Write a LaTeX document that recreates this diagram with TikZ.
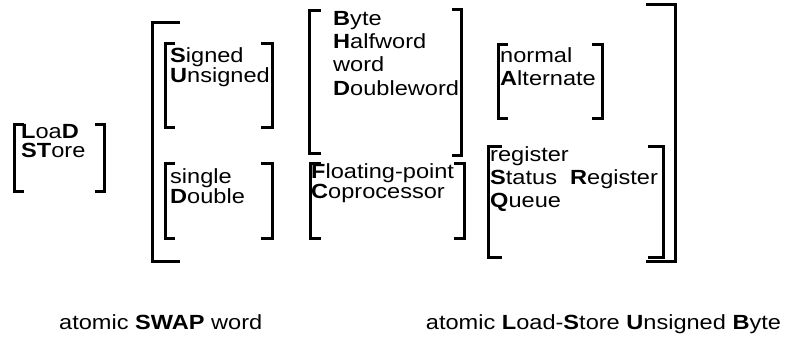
\documentclass[tikz,border=0pt]{standalone}
\usepackage{fontspec}
\setmainfont[FakeStretch=1.15]{Liberation Sans}
\newcommand\B[1]{\textbf{#1}}
% left and right square brackets: x, top y, bottom y, serif length
\newcommand\brL[4]{\draw[br] ({#1+#4},#2) -- (#1,#2) -- (#1,#3) -- ({#1+#4},#3);}
\newcommand\brR[4]{\draw[br] ({#1-#4},#2) -- (#1,#2) -- (#1,#3) -- ({#1-#4},#3);}
\begin{document}
\begin{tikzpicture}[x=1pt,y=-1pt,
  br/.style={line width=3pt, line join=miter},
  lbl/.style={anchor=base west, inner sep=0pt, font=\fontsize{20.5}{22}\selectfont}]
\useasboundingbox (0,0) rectangle (788,340);

% load / store
\brL{14.5}{124}{191}{9}
\brR{104}{124}{191}{9}
\node[lbl] (ld) at (21,138) {\B{L}oa\B{D}};
\node[lbl] (st) at (21,157.5) {\B{ST}ore};

% outer bracket
\brL{152}{22}{261}{28}
\brR{675}{4}{261}{29}

% signed / unsigned
\brL{165}{43}{127}{10}
\brR{272}{43}{127}{11}
\node[lbl] (sg) at (170,62) {\B{S}igned};
\node[lbl] (us) at (170,82) {\B{U}nsigned};

% single / double
\brL{165}{163}{238}{10}
\brR{272}{163}{238}{11}
\node[lbl] (si) at (170,183) {single};
\node[lbl] (db) at (170,203) {\B{D}ouble};

% operand width
\brL{309}{10}{153}{12}
\brR{461}{9}{155}{9}
\node[lbl] (by) at (333,25) {\B{B}yte};
\node[lbl] (hw) at (333,48.5) {\B{H}alfword};
\node[lbl] (wd) at (333,71.5) {word};
\node[lbl] (dw) at (333,95) {\B{D}oubleword};

% floating-point / coprocessor
\brL{310}{163}{238}{11}
\brR{464}{163}{238}{10}
\node[lbl] (fp) at (311,178) {\B{F}loating-point};
\node[lbl] (cp) at (311,198) {\B{C}oprocessor};

% normal / alternate
\brL{498}{44}{118}{10}
\brR{602}{44}{118}{10}
\node[lbl] (nm) at (500,62) {normal};
\node[lbl] (al) at (500,85) {\B{A}lternate};

% register / status register / queue
\brL{488}{146}{257}{14}
\brR{663}{146}{257}{15}
\node[lbl] (rg) at (490,161) {register};
\node[lbl] (sr) at (490,184) {\B{S}tatus\ \ \B{R}egister};
\node[lbl] (qu) at (490,207) {\B{Q}ueue};

% instruction names
\node[lbl] (swap) at (59,329) {atomic \B{SWAP} word};
\node[lbl] (ldstub) at (425.7,329) {atomic \B{L}oad-\B{S}tore \B{U}nsigned \B{B}yte};
\end{tikzpicture}
\end{document}
